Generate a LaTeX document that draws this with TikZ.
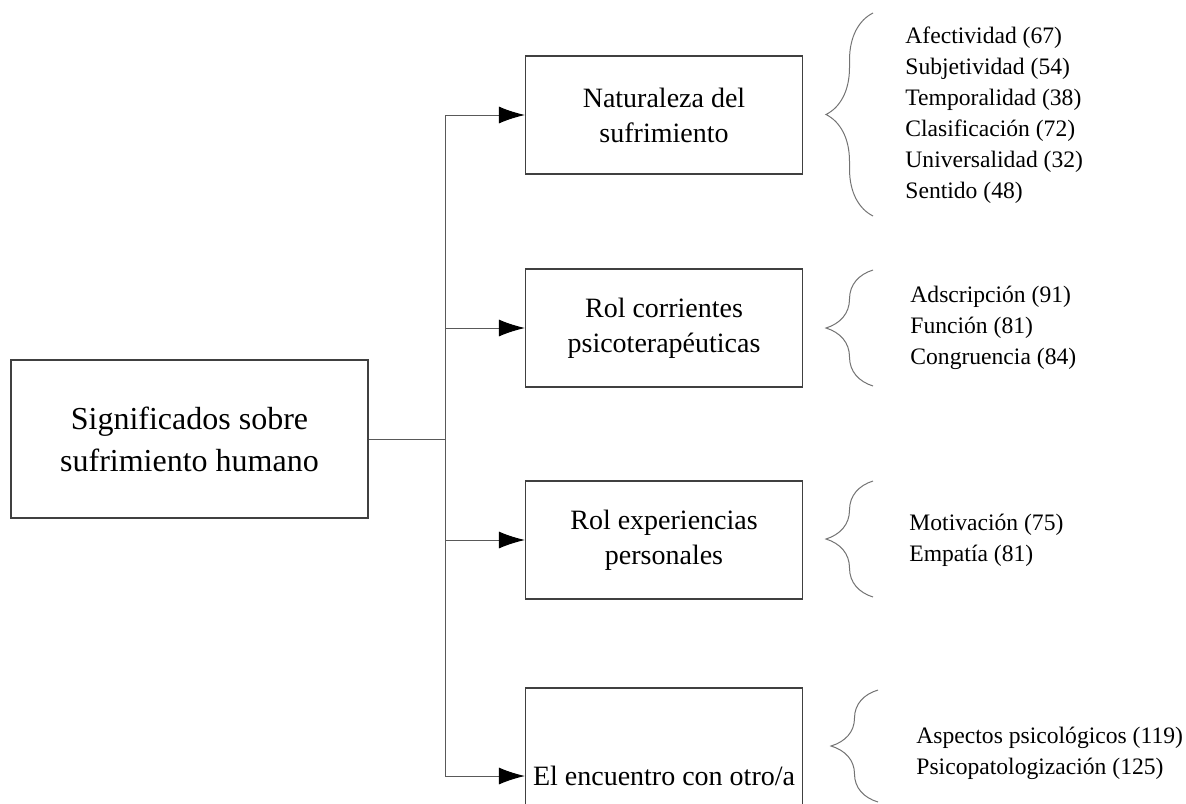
\documentclass[tikz,border=0pt]{standalone}
\usepackage{fontspec}
\setmainfont{Liberation Serif}
\usetikzlibrary{arrows.meta, calc, decorations.pathreplacing}

\begin{document}
\begin{tikzpicture}[x=0.5pt, y=-0.5pt,
    box/.style={draw=black!75, line width=0.6pt, minimum width=138.5pt, minimum height=59pt, align=center, font=\fontsize{14}{17.5}\selectfont},
    line/.style={draw=black!65, line width=0.5pt},
    arr/.style={line, -{Latex[length=13pt, width=8.5pt, black]}},
    curly/.style={draw=black!55, line width=0.5pt, decorate, decoration={brace, amplitude=23.5pt}},
    items/.style={anchor=west, align=left, inner sep=0pt, font=\fontsize{11.8}{15.5}\selectfont}]
    \useasboundingbox (0,0) rectangle (1186,803);
    \clip (0,0) rectangle (1186,803);

    \node[box, minimum width=178.5pt, minimum height=79pt, font=\fontsize{16}{21}\selectfont] (main) at (189.5, 439) {Significados sobre\\sufrimiento humano};

    \node[box] (nat) at (664, 115) {Naturaleza del\\sufrimiento};
    \node[box] (rolcor) at (664, 328) {Rol corrientes\\psicoterap\'euticas};
    \node[box] (rolexp) at (664, 540) {Rol experiencias\\personales};
    \node[box, minimum height=88pt] (enc) at (664, 776) {El encuentro con otro/a};

    \coordinate (split) at (445, 439);

    \draw[line] (main.east) -- (split);
    \draw[arr] (split) |- (nat.west);
    \draw[arr] (split) |- (rolcor.west);
    \draw[arr] (split) |- (rolexp.west);
    \draw[arr] (split) |- (enc.west);

    \draw[curly] (873, 216) -- (873, 13);
    \draw[curly] (873, 386) -- (873, 270);
    \draw[curly] (873, 597) -- (873, 481);
    \draw[curly] (878, 802) -- (878, 690);

    \node[items] (natlist) at (905, 115) {Afectividad (67)\\Subjetividad (54)\\Temporalidad (38)\\Clasificaci\'on (72)\\Universalidad (32)\\Sentido (48)};
    \node[items] (rolcorlist) at (910, 328) {Adscripci\'on (91)\\Funci\'on (81)\\Congruencia (84)};
    \node[items] (rolexplist) at (909, 540) {Motivaci\'on (75)\\Empat\'ia (81)};
    \node[items] (enclist) at (916, 753) {Aspectos psicol\'ogicos (119)\\Psicopatologizaci\'on (125)};
\end{tikzpicture}
\end{document}
